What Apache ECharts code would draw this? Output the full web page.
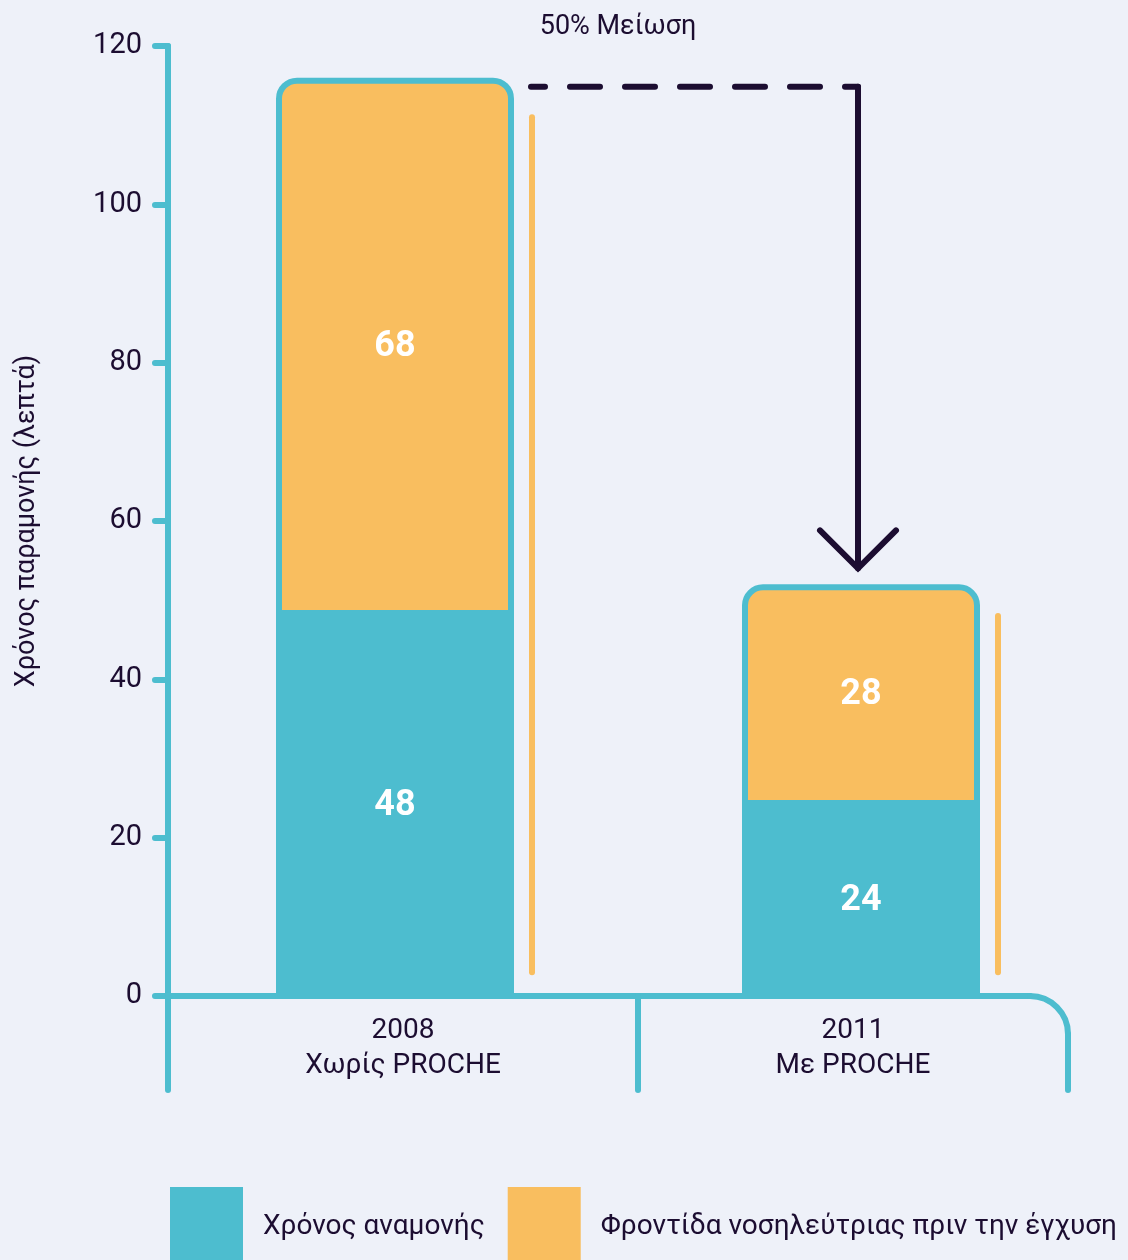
<!DOCTYPE html>
<html><head><meta charset="utf-8">
<script src="https://cdn.jsdelivr.net/npm/echarts@6/dist/echarts.min.js"></script>
<style>html,body{margin:0;padding:0;background:#eef1f9}#c{width:1128px;height:1260px}</style>
</head><body><div id="c"></div>
<script>
// ---- data ----
const years = ['2008', '2011'];
const groupLabels = ['Χωρίς PROCHE', 'Με PROCHE'];
const waitingTime = [48, 24];
const nurseCare = [68, 28];
const seriesNames = ['Χρόνος αναμονής', 'Φροντίδα νοσηλεύτριας πριν την έγχυση'];
const yMin = 0, yMax = 120, yStep = 20;
const yAxisTitle = 'Χρόνος παραμονής (λεπτά)';
const annotationText = '50% Μείωση';
const sideLineTop = [111, 48];
const sideLineBottom = [3, 3];

// ---- style ----
const TEAL = '#4dbdcf', ORANGE = '#f9be5f', DARK = '#1c0d31', BG = '#eef1f9';
const FONT = 'Roboto';
const BAR_W = 238;

const chart = echarts.init(document.getElementById('c'), null, {renderer: 'canvas'});
const option = {
  backgroundColor: BG,
  animation: false,
  textStyle: {fontFamily: FONT, color: DARK},
  title: {
    text: annotationText, left: 618, top: 14, textAlign: 'center', padding: 0,
    textStyle: {fontFamily: FONT, fontSize: 27, fontWeight: 'normal', color: DARK}
  },
  grid: {left: 162, right: 34, top: 46, bottom: 264, containLabel: false},
  legend: {
    left: 170, top: 1187, padding: 0, itemGap: 23, itemWidth: 73, itemHeight: 80,
    icon: 'rect', data: seriesNames,
    itemStyle: {borderWidth: 0},
    textStyle: {fontFamily: FONT, fontSize: 28, color: DARK, padding: [0, 0, 0, 15]}
  },
  xAxis: {
    type: 'category', data: years,
    axisLine: {show: false}, axisTick: {show: false}, splitLine: {show: false},
    axisLabel: {
      margin: 17, interval: 0,
      formatter: (v, i) => {
        const k = i === 0 ? 'l' : 'r';
        return `{${k}|${v}}\n{${k}|${groupLabels[i]}}`;
      },
      rich: {
        l: {fontFamily: FONT, fontSize: 28, lineHeight: 35, color: DARK, padding: [0, 0, 0, 16]},
        r: {fontFamily: FONT, fontSize: 28, lineHeight: 35, color: DARK, padding: [0, 16, 0, 0]}
      }
    }
  },
  yAxis: {
    type: 'value', min: yMin, max: yMax, interval: yStep, offset: -6,
    name: yAxisTitle, nameLocation: 'middle', nameGap: 127,
    nameTextStyle: {fontFamily: FONT, fontSize: 27, color: DARK},
    axisLine: {show: false},
    axisTick: {show: true, length: 13, lineStyle: {color: TEAL, width: 6, cap: 'round'}},
    splitLine: {show: false},
    axisLabel: {margin: 26, fontFamily: FONT, fontSize: 29, color: DARK}
  },
  series: [
    {
      name: seriesNames[0], type: 'bar', stack: 'total', data: waitingTime, barWidth: BAR_W,
      itemStyle: {color: TEAL, borderColor: TEAL, borderWidth: 6},
      label: {show: true, position: 'inside', color: '#fff', fontFamily: FONT, fontWeight: 'bold', fontSize: 36}
    },
    {
      name: seriesNames[1], type: 'bar', stack: 'total', data: nurseCare, barWidth: BAR_W,
      itemStyle: {color: ORANGE, borderColor: TEAL, borderWidth: 6, borderRadius: [18, 18, 0, 0]},
      label: {show: true, position: 'inside', color: '#fff', fontFamily: FONT, fontWeight: 'bold', fontSize: 36}
    }
  ]
};
chart.setOption(option);

// ---- annotations computed from the axes ----
const py = v => chart.convertToPixel({yAxisIndex: 0}, v);
const px = i => chart.convertToPixel({xAxisIndex: 0}, i);
const y0 = py(0), yTop = py(yMax);
const axisX = 168, frameBottom = y0 + 94, frameRight = 1068, sepX = 638, R = 38;
const half = BAR_W / 2 + 3;
const totals = waitingTime.map((w, i) => w + nurseCare[i]);
const lineBase = {lineWidth: 6, lineCap: 'round', lineJoin: 'round', fill: null};
const st = (c, extra) => Object.assign({stroke: c}, lineBase, extra || {});
const g = [];
// axis frame
g.push({type: 'line', z: 100, shape: {x1: axisX, y1: yTop, x2: axisX, y2: frameBottom}, style: st(TEAL)});
g.push({type: 'line', z: 100, shape: {x1: axisX, y1: y0, x2: frameRight - R, y2: y0}, style: st(TEAL)});
g.push({type: 'arc', z: 100, shape: {cx: frameRight - R, cy: y0 + R, r: R, startAngle: -Math.PI / 2, endAngle: 0, clockwise: true}, style: st(TEAL)});
g.push({type: 'line', z: 100, shape: {x1: frameRight, y1: y0 + R, x2: frameRight, y2: frameBottom}, style: st(TEAL)});
g.push({type: 'line', z: 100, shape: {x1: sepX, y1: y0, x2: sepX, y2: frameBottom}, style: st(TEAL)});
// orange side lines
years.forEach((_, i) => {
  const x = px(i) + half + 15;
  g.push({type: 'line', z: 100, shape: {x1: x, y1: py(sideLineTop[i]), x2: x, y2: py(sideLineBottom[i])}, style: st(ORANGE)});
});
// dashed connector and arrow
const yConn = py(totals[0]) + 9;
const xEnd = px(1) - 3;
const xStart = px(0) + half + 14;
g.push({type: 'line', z: 100, shape: {x1: xEnd, y1: yConn, x2: xStart, y2: yConn},
  style: st(DARK, {lineDash: [30, 25], lineDashOffset: 17})});
const tipY = py(totals[1]) - 16;
g.push({type: 'line', z: 100, shape: {x1: xEnd, y1: yConn, x2: xEnd, y2: tipY}, style: st(DARK)});
g.push({type: 'polyline', z: 100, shape: {points: [[xEnd - 38, tipY - 38], [xEnd, tipY], [xEnd + 38, tipY - 38]]},
  style: st(DARK, {lineJoin: 'miter'})});
chart.setOption({graphic: g});
</script></body></html>
